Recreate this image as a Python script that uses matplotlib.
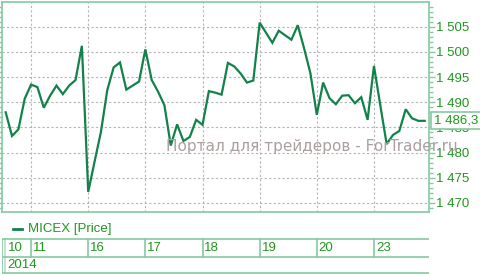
import matplotlib
matplotlib.use("Agg")
import matplotlib.pyplot as plt
from matplotlib.ticker import MultipleLocator, FuncFormatter
import numpy as np

# hourly MICEX closes, 10 Jan .. 23 Jan 2014
price = [1488.0, 1483.3, 1484.6, 1490.7,
         1493.5, 1493.0, 1488.9, 1491.3, 1493.3, 1491.6, 1493.3, 1494.4, 1501.2,
         1472.2, 1478.2, 1484.1, 1492.4, 1496.9, 1497.9, 1492.5, 1493.3, 1494.1,
         1500.5, 1494.4, 1492.1, 1489.4, 1481.4, 1485.6, 1482.3, 1483.1, 1486.5,
         1485.5, 1492.2, 1491.9, 1491.5, 1497.8, 1497.1, 1495.7, 1493.9, 1494.3,
         1505.8, 1503.8, 1501.8, 1504.2, 1503.3, 1502.4, 1505.3, 1500.7, 1495.7,
         1487.5, 1493.9, 1490.8, 1489.6, 1491.3, 1491.4, 1489.8, 1491.0, 1486.5,
         1497.2, 1489.4, 1481.7, 1483.5, 1484.3, 1488.6, 1486.8, 1486.3, 1486.3]
day_labels = ["10", "11", "16", "17", "18", "19", "20", "23"]
day_start = [0, 4, 13, 22, 31, 40, 49, 58]
year_label = "2014"
series_name = "MICEX [Price]"
last_label = "1 486,3"

LINE = "#12824a"
TXT = "#1f961f"
EDGE = "#86c9a2"
GRID = "#b4b4b4"
WMARK = "#ab9f9f"

W, H = 481, 274
def box(l, t, r, b):
    return [l / W, 1 - b / H, (r - l) / W, (b - t) / H]

fig = plt.figure(figsize=(W / 100, H / 100), dpi=100)
plt.rcParams['font.family'] = ['Liberation Sans', 'DejaVu Sans']

xmin, xmax = -0.58, 66.67
ax = fig.add_axes(box(2, 2, 429, 212))
x = np.arange(len(price))
ax.plot(x, price, color=LINE, lw=1.6, zorder=3, solid_joinstyle='miter')
ax.set_xlim(xmin, xmax)
ax.set_ylim(1468.2, 1509.9)
ax.set_xticks(day_start[1:])
ax.tick_params(axis='x', length=0, labelbottom=False)
ax.yaxis.set_major_locator(MultipleLocator(5))
ax.yaxis.set_minor_locator(MultipleLocator(1))
ax.yaxis.set_major_formatter(FuncFormatter(lambda v, p: "{:,.0f}".format(v).replace(",", " ")))
ax.tick_params(axis='y', which='both', left=True, right=True, labelleft=False,
               labelright=True, color=EDGE, width=1, direction='out')
ax.tick_params(axis='y', which='major', length=4, labelcolor=TXT, labelsize=9.5, pad=1)
ax.tick_params(axis='y', which='minor', length=3)
ax.grid(True, which='major', color=GRID, ls=(0, (2, 2)), lw=0.8)
for s in ax.spines.values():
    s.set_color(EDGE)
    s.set_linewidth(1.2)

ax.text(1.0117, price[-1], last_label, transform=ax.get_yaxis_transform(),
        ha='left', va='center', color=TXT, fontsize=9.5,
        bbox=dict(boxstyle='square,pad=0.2', fc='white', ec=EDGE, lw=1.2), zorder=5)

fig.text(166 / W, 1 - 146 / H, "Портал для трейдеров - ForTrader.ru", color=WMARK,
         fontsize=11, family='DejaVu Sans', ha='left', va='center', zorder=1)

# legend
fig.add_artist(plt.Line2D([13 / W, 22 / W], [1 - 229 / H] * 2, color=LINE, lw=2))
fig.text(28 / W, 1 - 229 / H, series_name, color=TXT, fontsize=9.5, ha='left', va='center')

# date table
tab = fig.add_axes(box(2, 238, 429, 274))
tab.set_xlim(xmin, xmax)
tab.set_ylim(274, 238)
tab.axis('off')
for yy in (238.5, 256.5, 273):
    tab.axhline(yy, color=EDGE, lw=1.2)
for d in day_start[1:]:
    tab.plot([d, d], [238.5, 256.5], color=EDGE, lw=1.2)
tab.axvline(xmin + 0.02, color=EDGE, lw=1.2)
tab.axvline(xmin + 0.55, color=EDGE, lw=1.2, alpha=0.6)
for d, lab in zip(day_start, day_labels):
    xs = max(d, xmin + 0.55) + 0.3
    tab.text(xs, 248, lab, color=TXT, fontsize=9.5, ha='left', va='center')
tab.text(xmin + 0.85, 265.5, year_label, color=TXT, fontsize=9.5, ha='left', va='center')

fig.savefig("out.png", dpi=100)
